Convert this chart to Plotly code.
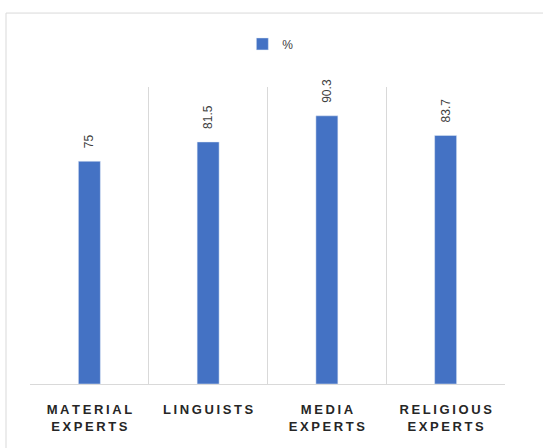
import plotly.graph_objects as go

categories = ["MATERIAL<br>EXPERTS", "LINGUISTS", "MEDIA<br>EXPERTS", "RELIGIOUS<br>EXPERTS"]
values = [75, 81.5, 90.3, 83.7]
series_name = "%"

def spaced(label):
    sp = "\u2009"
    return "<br>".join(sp.join(list(part)) for part in label.split("<br>"))

fig = go.Figure()
fig.add_trace(go.Bar(
    x=[spaced(c) for c in categories], y=values, name=series_name,
    marker=dict(color="#4472C4"), width=0.185,
    text=["\u00a0\u00a0\u00a0" + str(v) for v in values], textposition="outside", textangle=-90,
    textfont=dict(size=12, color="#404040", family="Liberation Sans"),
    constraintext="none", cliponaxis=False, showlegend=True,
))
fig.update_layout(
    width=543, height=448,
    margin=dict(l=30, r=38, t=87, b=64),
    plot_bgcolor="white", paper_bgcolor="white",
    showlegend=True,
    legend=dict(orientation="h", x=0.506, xanchor="center", y=1.145, yanchor="middle",
                font=dict(size=12, color="#404040", family="Liberation Sans"),
                itemwidth=30),
    xaxis=dict(tickson="boundaries", showgrid=True, gridcolor="#d9d9d9", gridwidth=1,
               showline=True, linecolor="#d9d9d9", ticks="",
               tickfont=dict(size=13, color="#262626", family="Liberation Sans", weight="bold"),
               tickangle=0, ticklabelstandoff=13),
    yaxis=dict(range=[0, 100], showgrid=False, showticklabels=False, zeroline=False),
    bargap=0.8,
    shapes=[dict(type="rect", xref="paper", yref="paper", x0=-0.0505, x1=1.1, y0=-0.25, y1=1.249,
                 line=dict(color="#d9d9d9", width=1), fillcolor="rgba(0,0,0,0)", layer="below")],
)
fig.write_html("out.html", config={"displayModeBar": False},
               post_script="document.body.style.margin='0';")
